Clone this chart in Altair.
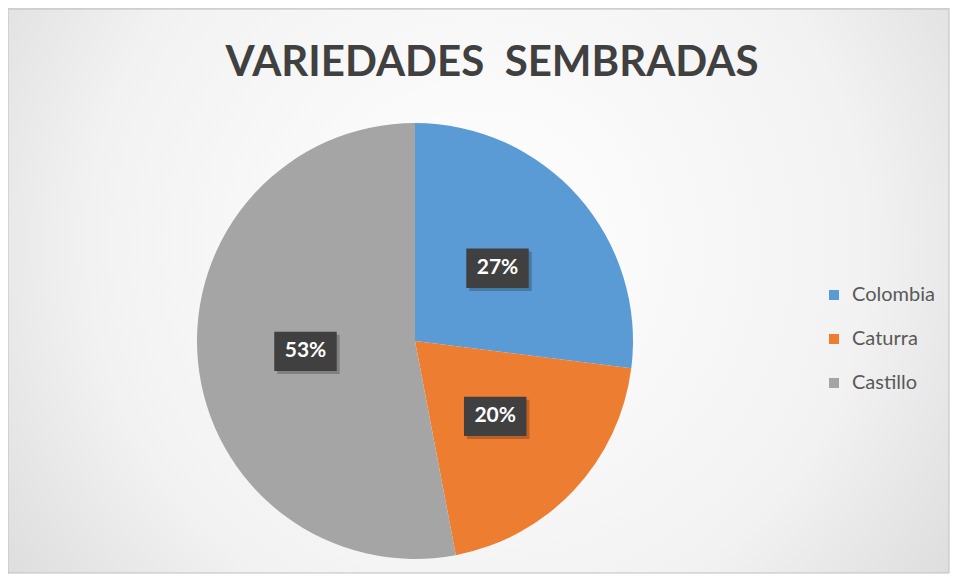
import altair as alt
import pandas as pd

categories = ["Colombia", "Caturra", "Castillo"]
percentages = [27, 20, 53]
colors = ["#5B9BD5", "#ED7D31", "#A5A5A5"]
title_text = "VARIEDADES\u00a0 SEMBRADAS"

W, H = 942, 566
CX, CY, R = 407, 333, 218
LABEL_R = 110

df = pd.DataFrame({"variedad": categories, "pct": percentages, "orden": [0, 1, 2]})

bg_gradient = {
    "gradient": "radial",
    "x1": 0.5, "y1": 0.45, "r1": 0,
    "x2": 0.5, "y2": 0.45, "r2": 0.75,
    "stops": [
        {"offset": 0, "color": "#ffffff"},
        {"offset": 0.55, "color": "#f2f2f2"},
        {"offset": 1, "color": "#cfcfcf"},
    ],
}

bg = alt.Chart(pd.DataFrame({"a": [0]})).mark_rect(
    fill=bg_gradient, stroke="#bfbfbf", strokeWidth=1
).encode(
    x=alt.value(0), x2=alt.value(W - 1), y=alt.value(1), y2=alt.value(H - 1)
)

title = alt.Chart(pd.DataFrame({"t": [title_text]})).mark_text(
    font="Lato", fontWeight="bold", fontSize=42, color="#404040",
    align="center", baseline="middle"
).encode(x=alt.value(484), y=alt.value(55), text="t:N")

color_scale = alt.Scale(domain=categories, range=colors)

pie = alt.Chart(df).mark_arc(radius=R).encode(
    theta=alt.Theta("pct:Q", stack=True),
    color=alt.Color(
        "variedad:N", scale=color_scale, sort=categories,
        legend=alt.Legend(
            title=None, orient="none", legendX=816, legendY=277,
            symbolType="square", symbolSize=100, symbolStrokeWidth=0,
            labelFont="Lato", labelFontSize=20, labelColor="#595959",
            rowPadding=24, labelOffset=8, padding=0,
        ),
    ),
    order=alt.Order("orden:Q"),
    x=alt.value(CX), y=alt.value(CY),
)

base = alt.Chart(df).transform_window(
    cum="sum(pct)", sort=[alt.SortField("orden")]
).transform_joinaggregate(total="sum(pct)").transform_calculate(
    mid="(datum.cum - datum.pct/2) / datum.total * 2 * PI",
    lx=f"{CX} + {LABEL_R} * sin(datum.mid)",
    ly=f"{CY} - {LABEL_R} * cos(datum.mid)",
    lbl="format(datum.pct / datum.total, '.0%')",
)

BOX = "M-1,-0.63L1,-0.63L1,0.63L-1,0.63Z"

shadow = base.mark_point(
    shape=BOX, filled=True, fill="#000000",
    fillOpacity=0.22, size=3900, strokeWidth=0
).encode(
    x=alt.X("lx:Q", scale=None), y=alt.Y("ly:Q", scale=None),
    xOffset=alt.value(3), yOffset=alt.value(3),
)

boxes = base.mark_point(
    shape=BOX, filled=True, fill="#404040",
    fillOpacity=1, size=3900, strokeWidth=0
).encode(
    x=alt.X("lx:Q", scale=None), y=alt.Y("ly:Q", scale=None),
)

labels = base.mark_text(
    font="Lato", fontWeight="bold", fontSize=21, color="#ffffff",
    align="center", baseline="middle"
).encode(
    x=alt.X("lx:Q", scale=None), y=alt.Y("ly:Q", scale=None), text="lbl:N"
)

chart = alt.layer(bg, title, pie, shadow, boxes, labels).properties(
    width=W, height=H, padding=0, autosize=alt.AutoSizeParams(type="none")
).configure_view(stroke=None).configure(background="#ffffff")

chart.save("out.html", embed_options={"renderer": "svg", "actions": False})
